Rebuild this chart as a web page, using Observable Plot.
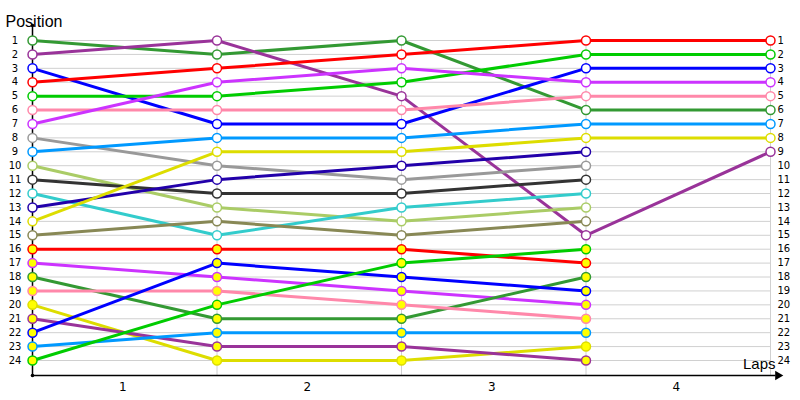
<!DOCTYPE html>
<html>
<head>
<meta charset="utf-8">
<script src="https://cdn.jsdelivr.net/npm/d3@7"></script>
<script src="https://cdn.jsdelivr.net/npm/@observablehq/plot@0.6"></script>
<style>
  html, body { margin: 0; padding: 0; background: #fff; }
  #chart svg { display: block; }
</style>
</head>
<body>
<div id="chart"></div>
<script>
// Checkpoints (0 = start, 1..4 = end of each lap)
const checkpoints = [0, 1, 2, 3, 4];
const lapLabels = ["1", "2", "3", "4"];
const positionTicks = d3.range(1, 25);

// Class 1 drivers (white markers): colour and position at each checkpoint
const class1Colors = ["#339933", "#993399", "#0000ff", "#ff0000", "#00cc00", "#ff88aa", "#cc33ff", "#999999",
                      "#0099ff", "#aacc66", "#333333", "#33cccc", "#2200aa", "#dddd00", "#888855"];
const class1Positions = [
  [1, 2, 1, 6, 6],
  [2, 1, 5, 15, 9],
  [3, 7, 7, 3, 3],
  [4, 3, 2, 1, 1],
  [5, 5, 4, 2, 2],
  [6, 6, 6, 5, 5],
  [7, 4, 3, 4, 4],
  [8, 10, 11, 10, null],
  [9, 8, 8, 7, 7],
  [10, 13, 14, 13, null],
  [11, 12, 12, 11, null],
  [12, 15, 13, 12, null],
  [13, 11, 10, 9, null],
  [14, 9, 9, 8, 8],
  [15, 14, 15, 14, null]
];

// Class 2 drivers (yellow markers)
const class2Colors = ["#ff0000", "#cc33ff", "#339933", "#ff88aa", "#dddd00", "#993399", "#0000ff", "#0099ff", "#00cc00"];
const class2Positions = [
  [16, 16, 16, 17, null],
  [17, 18, 19, 20, null],
  [18, 21, 21, 18, null],
  [19, 19, 20, 21, null],
  [20, 24, 24, 23, null],
  [21, 23, 23, 24, null],
  [22, 17, 18, 19, null],
  [23, 22, 22, 22, null],
  [24, 20, 17, 16, null]
];

// Build a long table
const rows = [];
function addClass(colors, positions, cls, fill) {
  positions.forEach((ps, i) => {
    ps.forEach((p, j) => {
      if (p != null) rows.push({id: cls + i, color: colors[i], fill, cp: checkpoints[j], pos: p});
    });
  });
}
addClass(class1Colors, class1Positions, "A", "#ffffff");
addClass(class2Colors, class2Positions, "B", "#ffff00");

const axisBottom = 25.08; // position value of the x axis line
const axisTop = -0.08;
const font = "Liberation Sans, DejaVu Sans, sans-serif";
const tickFont = "DejaVu Sans, sans-serif";

const chart = Plot.plot({
  width: 800,
  height: 400,
  marginLeft: 32,
  marginRight: 30,
  marginTop: 40,
  marginBottom: 40,
  style: {fontFamily: font, background: "#fff"},
  x: {type: "linear", domain: [0, 4], axis: null},
  y: {type: "linear", domain: [1, 24], reverse: true, axis: null},
  marks: [
    // grid
    Plot.ruleY(positionTicks, {x1: 0, x2: 4, stroke: "#d0d0d0", strokeWidth: 1}),
    Plot.ruleX(checkpoints.slice(1), {y1: 1, y2: axisBottom, stroke: "#d0d0d0", strokeWidth: 1}),
    // axes
    Plot.ruleX([0], {y1: axisTop, y2: axisBottom, stroke: "#000", strokeWidth: 1.5}),
    Plot.ruleY([axisBottom], {x1: 0, x2: 4.03, stroke: "#000", strokeWidth: 1.5}),
    Plot.dot([0], {x: 0, y: axisTop, r: 1.8, fill: "#000", stroke: null}),
    Plot.dot([0], {x: 0, y: axisBottom, r: 1.8, fill: "#000", stroke: null}),
    Plot.dot([0], {x: 4.04, y: axisBottom, symbol: "triangle", rotate: 90, r: 3.5, fill: "#000", stroke: null}),
    // tick labels
    Plot.text(positionTicks, {x: 0, y: d => d, text: d => String(d), dx: -17.5, fontSize: 10, fontFamily: tickFont, fill: "#000", textAnchor: "middle"}),
    Plot.text(positionTicks, {x: 4, y: d => d, text: d => String(d), dx: 7, fontSize: 10, fontFamily: tickFont, fill: "#000", textAnchor: "start"}),
    Plot.text(lapLabels, {x: (d, i) => i + 0.5, y: axisBottom, text: d => d, dx: -2, dy: 12, fontSize: 12, fontFamily: tickFont, fill: "#000"}),
    // titles
    Plot.text(["Position"], {frameAnchor: "top-left", dx: -27, dy: -25, text: d => d, fontSize: 16, textAnchor: "start", fill: "#000"}),
    Plot.text(["Laps"], {x: 4, y: axisBottom, text: d => d, dx: 5, dy: -11, fontSize: 15, textAnchor: "end", fill: "#000"}),
    // lines
    Plot.line(rows, {x: "cp", y: "pos", z: "id", stroke: "color", strokeWidth: 3, curve: "linear"}),
    // markers
    Plot.dot(rows, {x: "cp", y: "pos", stroke: "color", fill: "fill", r: 4.5, strokeWidth: 1.5})
  ]
});
document.getElementById("chart").appendChild(chart);
</script>
</body>
</html>
